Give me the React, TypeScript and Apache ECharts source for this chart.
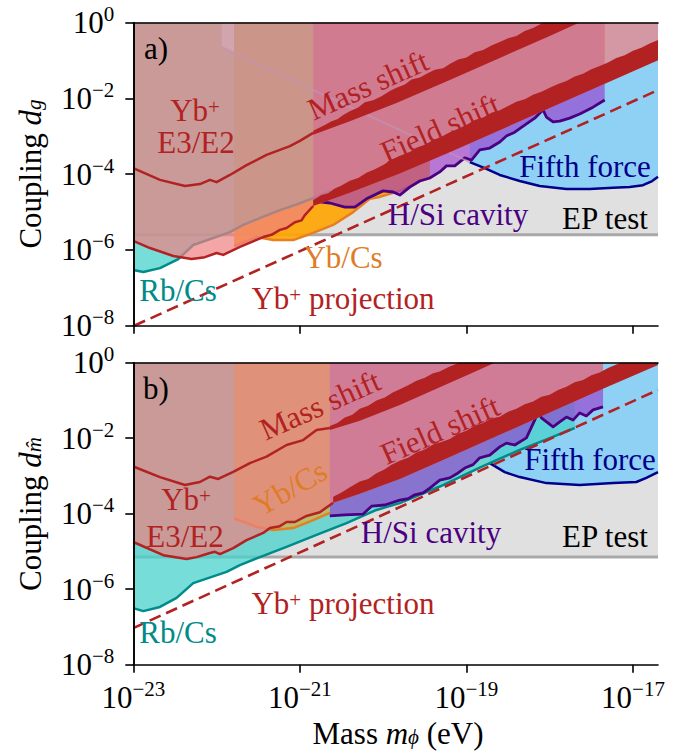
import React, { useEffect, useRef } from 'react';
import * as echarts from 'echarts';

// ---------- axes ----------
const X_MIN = 1e-23;
const X_MAX = Math.pow(10, -16.7);
const Y_MIN = 1e-8;
const Y_MAX = 1;
const X_TICKS = [1e-23, 1e-21, 1e-19, 1e-17];
const Y_TICKS = [1, 1e-2, 1e-4, 1e-6, 1e-8];

// ---------- panel a (pairs: log10 mass [eV], log10 coupling) ----------
const A_EP = -5.6;
const A_TEAL = [[-23.0, -6.53], [-22.88, -6.58], [-22.68, -6.48], [-22.46, -6.24], [-22.28, -5.87], [-22.06, -5.7], [-21.84, -5.53], [-21.68, -5.34], [-21.46, -5.14], [-21.24, -4.95], [-21.04, -4.8], [-20.84, -4.63], [-20.62, -4.44], [-20.4, -4.28], [-20.1, -4.02], [-19.8, -3.76], [-19.37, -3.36]];
const A_ORANGE = [[-21.79, -5.9], [-21.52, -5.66], [-21.32, -5.74], [-21.08, -5.74], [-20.84, -5.55], [-20.6, -5.34], [-20.36, -5.0], [-20.16, -4.65], [-20.04, -4.6], [-19.8, -4.44], [-19.56, -4.18], [-19.44, -4.1]];
const A_INDIGO = [[-20.84, -4.71], [-20.64, -4.76], [-20.46, -4.87], [-20.34, -4.87], [-20.2, -4.65], [-20.0, -4.44], [-19.88, -4.47], [-19.8, -4.55], [-19.68, -4.34], [-19.56, -4.18], [-19.44, -4.1], [-19.32, -3.94], [-19.24, -3.78], [-19.14, -3.78], [-19.02, -3.57], [-18.94, -3.63], [-18.84, -3.36], [-18.72, -3.31], [-18.6, -3.15], [-18.52, -2.99], [-18.42, -2.89], [-18.28, -2.67], [-18.18, -2.52], [-18.08, -2.3], [-18.04, -2.49], [-17.96, -2.62], [-17.88, -2.6], [-17.76, -2.52], [-17.64, -2.41], [-17.48, -2.23], [-17.34, -2.04]];
const A_NAVY = [[-18.96, -3.68], [-18.78, -3.84], [-18.6, -4.02], [-18.36, -4.18], [-18.12, -4.31], [-17.8, -4.39], [-17.52, -4.39], [-17.24, -4.36], [-17.04, -4.34], [-16.88, -4.29], [-16.77, -4.18], [-16.7, -4.07]];
const A_FAINT = [[-21.94, -0.64], [-20.84, -1.78], [-19.8, -2.83], [-18.96, -3.68]];
const A_STRIP = [[-21.94, 0], [-21.94, -0.64], [-21.79, -0.8], [-21.79, 0]];
const A_RED_LOW = [[-23.0, -5.76], [-22.8, -5.95], [-22.52, -6.16], [-22.3, -6.24], [-22.14, -6.19], [-22.0, -6.08], [-21.92, -6.13], [-21.72, -5.92], [-21.44, -5.66], [-21.34, -5.6], [-21.24, -5.47], [-21.16, -5.42], [-21.06, -5.27], [-20.98, -5.22], [-20.94, -5.08], [-20.84, -4.84]];
const A_RED_UP = [[-23.0, -3.84], [-22.68, -4.15], [-22.38, -4.31], [-22.2, -4.26], [-22.08, -4.15], [-22.0, -4.21], [-21.84, -4.02], [-21.64, -3.76], [-21.4, -3.49], [-21.12, -3.26], [-21.0, -3.12], [-20.84, -2.91]];
const A_MS_UP = [[-20.84, -2.85], [-20.7, -2.7], [-20.62, -2.6], [-20.55, -2.55], [-20.48, -2.44], [-20.4, -2.34], [-20.3, -2.24], [-20.22, -2.1], [-20.12, -2.05], [-20.02, -1.94], [-19.92, -1.8], [-19.84, -1.72], [-19.74, -1.63], [-19.66, -1.5], [-19.56, -1.45], [-19.46, -1.33], [-19.38, -1.24], [-19.28, -1.2], [-19.2, -1.09], [-19.1, -0.97], [-19.0, -0.92], [-18.9, -0.78], [-18.8, -0.72], [-18.7, -0.6], [-18.6, -0.51], [-18.5, -0.41], [-18.4, -0.35], [-18.3, -0.22], [-18.2, -0.14], [-18.08, 0]];
const A_MS_LOW = [[-20.84, -2.96], [-20.4, -2.6], [-19.84, -2.12], [-19.2, -1.51], [-18.6, -0.93], [-18.0, -0.35], [-17.65, 0]];
const A_FS_UP = [[-20.84, -4.68], [-20.74, -4.55], [-20.66, -4.5], [-20.58, -4.38], [-20.5, -4.3], [-20.4, -4.17], [-20.3, -4.1], [-20.2, -3.96], [-20.1, -3.87], [-20.0, -3.76], [-19.9, -3.62], [-19.8, -3.51], [-19.7, -3.44], [-19.6, -3.3], [-19.5, -3.22], [-19.4, -3.1], [-19.3, -3.01], [-19.2, -2.89], [-19.1, -2.8], [-19.0, -2.7], [-18.9, -2.57], [-18.8, -2.5], [-18.7, -2.38], [-18.6, -2.31], [-18.5, -2.2], [-18.4, -2.09], [-18.3, -2.02], [-18.2, -1.9], [-18.1, -1.82], [-18.0, -1.72], [-17.9, -1.62], [-17.8, -1.54], [-17.7, -1.42], [-17.6, -1.35], [-17.5, -1.23], [-17.4, -1.14], [-17.3, -1.05], [-17.2, -0.93], [-17.1, -0.86], [-17.0, -0.74], [-16.9, -0.66], [-16.8, -0.55], [-16.7, -0.46]];
const A_FS_LOW = [[-20.84, -4.84], [-20.4, -4.49], [-19.8, -3.98], [-19.2, -3.42], [-18.6, -2.84], [-18.0, -2.25], [-17.4, -1.67], [-16.7, -0.99]];
const A_DASH = [[-22.99, -8.0], [-16.7, -1.78]];
const A_HSI_END = -17.34;

// ---------- panel b ----------
const B_EP = -5.15;
const B_TEAL = [[-23.0, -6.5], [-22.88, -6.58], [-22.68, -6.47], [-22.48, -6.23], [-22.28, -5.84], [-21.88, -5.54], [-21.72, -5.36], [-21.48, -5.15], [-21.16, -4.88], [-20.8, -4.56], [-20.44, -4.25], [-20.08, -3.9], [-19.8, -3.72], [-19.32, -3.28], [-18.84, -2.78], [-18.36, -2.31], [-18.0, -2.0], [-17.7, -1.73]];
const B_ORANGE = [[-21.79, -4.12], [-21.52, -4.35], [-21.32, -4.43], [-21.08, -4.38], [-20.84, -4.17], [-20.64, -3.98]];
const B_INDIGO = [[-20.64, -4.06], [-20.46, -4.03], [-20.24, -4.01], [-20.14, -3.8], [-19.98, -3.77], [-19.8, -3.64], [-19.7, -3.6], [-19.62, -3.5], [-19.52, -3.45], [-19.44, -3.32], [-19.32, -3.11], [-19.2, -3.05], [-19.1, -2.92], [-19.02, -2.79], [-18.92, -2.7], [-18.84, -2.52], [-18.72, -2.45], [-18.6, -2.23], [-18.52, -2.13], [-18.42, -2.18], [-18.28, -1.99], [-18.18, -1.52], [-18.14, -1.33], [-18.1, -1.46], [-17.96, -1.7], [-17.88, -1.57], [-17.8, -1.44], [-17.72, -1.52], [-17.64, -1.33], [-17.56, -1.41], [-17.48, -1.25], [-17.36, -1.17]];
const B_NAVY = [[-18.72, -2.66], [-18.54, -2.9], [-18.36, -3.03], [-18.04, -3.19], [-17.64, -3.24], [-17.24, -3.19], [-16.96, -3.16], [-16.84, -3.05], [-16.7, -2.9]];
const B_RED_LOW = [[-23.0, -4.75], [-22.64, -5.1], [-22.36, -5.2], [-22.24, -5.15], [-22.08, -5.04], [-22.02, -5.01], [-21.96, -5.07], [-21.8, -4.91], [-21.64, -4.7], [-21.44, -4.51], [-21.36, -4.38], [-21.24, -4.33], [-21.16, -4.22], [-21.06, -4.22], [-20.92, -4.06], [-20.76, -3.96], [-20.6, -3.71]];
const B_RED_UP = [[-23.0, -2.75], [-22.68, -3.03], [-22.38, -3.24], [-22.2, -3.16], [-22.08, -3.02], [-21.98, -3.08], [-21.8, -2.89], [-21.6, -2.66], [-21.4, -2.49], [-21.16, -2.18], [-20.96, -2.05], [-20.8, -1.78], [-20.64, -1.73]];
const B_MS_UP = [[-20.64, -1.68], [-20.55, -1.6], [-20.46, -1.45], [-20.37, -1.38], [-20.28, -1.22], [-20.18, -1.14], [-20.08, -1.0], [-19.98, -0.92], [-19.88, -0.78], [-19.8, -0.7], [-19.7, -0.6], [-19.6, -0.48], [-19.5, -0.4], [-19.4, -0.28], [-19.32, -0.23], [-19.22, -0.12], [-19.09, 0]];
const B_MS_LOW = [[-20.64, -1.78], [-20.28, -1.54], [-19.8, -1.12], [-19.32, -0.65], [-18.96, -0.3], [-18.66, 0]];
const B_FS_UP = [[-20.6, -3.55], [-20.5, -3.44], [-20.4, -3.3], [-20.28, -3.15], [-20.18, -3.08], [-20.08, -2.93], [-19.98, -2.82], [-19.9, -2.7], [-19.8, -2.6], [-19.7, -2.52], [-19.6, -2.38], [-19.5, -2.3], [-19.4, -2.17], [-19.3, -2.1], [-19.2, -2.02], [-19.1, -1.88], [-19.0, -1.8], [-18.9, -1.67], [-18.8, -1.6], [-18.7, -1.48], [-18.6, -1.43], [-18.5, -1.3], [-18.4, -1.22], [-18.3, -1.1], [-18.2, -1.03], [-18.1, -0.9], [-18.0, -0.85], [-17.9, -0.72], [-17.8, -0.64], [-17.7, -0.52], [-17.6, -0.46], [-17.5, -0.33], [-17.4, -0.26], [-17.3, -0.14], [-17.15, 0]];
const B_FS_LOW = [[-20.6, -3.71], [-20.28, -3.47], [-19.8, -3.08], [-19.2, -2.5], [-18.6, -1.91], [-18.0, -1.32], [-17.4, -0.73], [-17.36, -0.69], [-16.7, -0.06]];
const B_DASH = [[-23.0, -7.03], [-16.7, -0.72]];
const B_HSI_END = -17.36;

// ---------- styles ----------
const FONT = "'Liberation Serif', 'DejaVu Serif', serif";
const FS = 31;
const RED = '#b22222';
const GREY_FILL = '#e0e0e0';
const GREY_LINE = '#a9a9a9';
const BLUE_FILL = '#8fd0f5';
const NAVY = '#00008b';
const TEAL_FILL = 'rgba(72,209,204,0.75)';
const TEAL_LINE = '#008b8b';
const ORANGE_FILL_A = 'rgba(255,165,0,0.9)';
const ORANGE_FILL_B = 'rgba(255,165,0,0.5)';
const ORANGE_LINE = '#e67e22';
const ORANGE_TEXT = '#e07b28';
const PURPLE_FILL = 'rgba(153,50,204,0.6)';
const INDIGO = '#4b0082';
const PINK_FILL = 'rgba(240,128,128,0.7)';

const L = (pts: number[][]) => pts.map(([x, y]) => [Math.pow(10, x), Math.pow(10, y)]);

function interp(arr: number[][], x: number) {
  for (let i = 0; i < arr.length - 1; i++) {
    const [x0, y0] = arr[i];
    const [x1, y1] = arr[i + 1];
    if (x >= x0 && x <= x1) return y0 + ((y1 - y0) * (x - x0)) / (x1 - x0);
  }
  return x < arr[0][0] ? arr[0][1] : arr[arr.length - 1][1];
}
// path along the middle of a (hidden) opaque band, from xa to xb
function midPath(upper: number[][], lower: number[][], xa: number, xb: number) {
  const lo = Math.min(xa, xb);
  const hi = Math.max(xa, xb);
  const xs = [lo, ...lower.map((p) => p[0]).filter((x) => x > lo && x < hi), hi];
  const pts = xs.map((x) => [x, (interp(upper, x) + interp(lower, x)) / 2]);
  return xa <= xb ? pts : pts.reverse();
}

function poly(ax: number, pts: number[][], fill: string) {
  const data = L(pts);
  return {
    type: 'custom',
    xAxisIndex: ax,
    yAxisIndex: ax,
    silent: true,
    data: [[1e-20, 1e-4]],
    renderItem: (_p: any, api: any) => ({
      type: 'polygon',
      shape: { points: data.map((p) => api.coord(p)) },
      style: { fill },
    }),
  };
}

function line(ax: number, pts: number[][], color: string, width: number, dashed = false) {
  return {
    type: 'line',
    xAxisIndex: ax,
    yAxisIndex: ax,
    silent: true,
    symbol: 'none',
    showSymbol: false,
    data: L(pts),
    lineStyle: { color, width, type: dashed ? [12, 6] : 'solid', cap: 'butt', join: 'round' },
  };
}

const last = (a: number[][]) => a[a.length - 1];

function panelSeries(ax: number, p: any) {
  const list: any[] = [];
  const mid = (xa: number, xb: number) => midPath(p.fsUp, p.fsLow, xa, xb);
  // EP test
  list.push(poly(ax, [[-23, p.ep], [-16.7, p.ep], [-16.7, 0], [-23, 0]], GREY_FILL));
  list.push(line(ax, [[-23, p.ep], [-16.7, p.ep]], GREY_LINE, 3));
  // fifth force
  const nav0 = p.navy[0][0];
  list.push(poly(ax, [...p.navy, [-16.7, 0], [p.hsiEnd, 0], ...mid(p.hsiEnd, nav0)], BLUE_FILL));
  list.push(line(ax, p.navy, NAVY, 2.5));
  // Rb/Cs
  const tEnd = last(p.teal)[0];
  const tealTail = [...mid(tEnd, p.hsiEnd), [p.hsiEnd, 0]];
  const tealPoly = poly(ax, [...p.teal, ...tealTail, [-23, 0]], TEAL_FILL);
  const tealLine = line(ax, p.teal, TEAL_LINE, 2.5);
  // Yb/Cs
  const oEnd = last(p.orange)[0];
  const orTail = p.orangeToHsi ? [...mid(oEnd, p.hsiEnd), [p.hsiEnd, 0]] : [[oEnd, 0]];
  const orPoly = poly(ax, [...p.orange, ...orTail, [p.orange[0][0], 0]], p.orangeFill);
  const orLine = line(ax, p.orange, ORANGE_LINE, 2.5);
  if (p.tealOnTop) list.push(orPoly, orLine, tealPoly, tealLine);
  else list.push(tealPoly, tealLine, orPoly, orLine);
  // H/Si cavity
  list.push(poly(ax, [...p.indigo, [last(p.indigo)[0], 0], [p.indigo[0][0], 0]], PURPLE_FILL));
  list.push(line(ax, p.indigo, INDIGO, 2.8));
  // Yb+ E3/E2 region
  list.push(poly(ax, [...p.redLow, ...p.fsLow.filter((q: number[]) => q[0] <= p.pinkEnd), [p.pinkEnd, 0], [-23, 0]], PINK_FILL));
  if (p.strip) list.push(poly(ax, p.strip, 'rgba(225,185,215,0.35)'));
  if (p.faint) list.push(line(ax, p.faint, 'rgba(195,145,180,0.7)', 2));
  list.push(line(ax, p.redLow, RED, 2.5));
  list.push(line(ax, p.redUp, RED, 2.5));
  list.push(poly(ax, [...p.msUp, ...p.msLow.slice().reverse()], RED));
  list.push(poly(ax, [...p.fsUp, ...p.fsTop, ...p.fsLow.slice().reverse()], RED));
  list.push(line(ax, p.dash, RED, 2.6, true));
  return list.map((s, i) => ({ ...s, z: i + 1 }));
}

const fmt = (v: number) => {
  const e = Math.round(Math.log10(v));
  return '{b|10}{s|' + (e < 0 ? '\u2212' + -e : String(e)) + '}';
};
const LABEL_RICH = {
  b: { fontSize: FS, lineHeight: 38, fontFamily: FONT, color: '#000' },
  s: { fontSize: 21, lineHeight: 16, verticalAlign: 'top', fontFamily: FONT, color: '#000' },
};

function xAxis(grid: number, labels: boolean, top = false) {
  return {
    type: 'log',
    gridIndex: grid,
    min: X_MIN,
    max: X_MAX,
    position: top ? 'top' : 'bottom',
    z: 50,
    axisLine: { show: true, lineStyle: { color: '#000', width: 1.6 } },
    axisTick: { show: !top, inside: false, length: 8, lineStyle: { color: '#000', width: 1.6 }, customValues: X_TICKS },
    axisLabel: { show: labels && !top, customValues: X_TICKS, formatter: fmt, rich: LABEL_RICH, margin: 14 },
    splitLine: { show: false },
    minorTick: { show: false },
  };
}
function yAxis(grid: number, right = false) {
  return {
    type: 'log',
    gridIndex: grid,
    min: Y_MIN,
    max: Y_MAX,
    position: right ? 'right' : 'left',
    z: 50,
    axisLine: { show: true, lineStyle: { color: '#000', width: 1.6 } },
    axisTick: { show: !right, inside: false, length: 8, lineStyle: { color: '#000', width: 1.6 }, customValues: Y_TICKS },
    axisLabel: { show: !right, customValues: Y_TICKS, formatter: fmt, rich: LABEL_RICH, margin: 19 },
    splitLine: { show: false },
    minorTick: { show: false },
  };
}

const TXT_RICH = {
  s: { fontSize: 21, lineHeight: 4, verticalAlign: 'top', fontFamily: FONT },
  d: { fontSize: 21, lineHeight: 10, verticalAlign: 'bottom', fontFamily: FONT, fontStyle: 'italic' },
  i: { fontSize: FS, lineHeight: 28, fontFamily: FONT, fontStyle: 'italic' },
};
function txt(x: number, y: number, text: string, fill: string, rot = 0) {
  return {
    type: 'text',
    x,
    y,
    rotation: (rot * Math.PI) / 180,
    z: 100,
    silent: true,
    style: { text, fill, fontSize: FS, lineHeight: 28, fontFamily: FONT, align: 'center', verticalAlign: 'middle', rich: TXT_RICH },
  };
}

export default function App() {
  const ref = useRef<HTMLDivElement>(null);
  useEffect(() => {
    document.body.style.margin = '0';
    const chart = echarts.init(ref.current!, undefined, { renderer: 'svg' });
    const seriesA = panelSeries(0, {
      ep: A_EP, navy: A_NAVY, teal: A_TEAL, orange: A_ORANGE, orangeFill: ORANGE_FILL_A, tealOnTop: true,
      orangeToHsi: true, hsiEnd: A_HSI_END, strip: A_STRIP,
      indigo: A_INDIGO, faint: A_FAINT, redLow: A_RED_LOW, redUp: A_RED_UP, pinkEnd: -16.7,
      msUp: A_MS_UP, msLow: A_MS_LOW, fsUp: A_FS_UP, fsLow: A_FS_LOW, fsTop: [], dash: A_DASH,
    });
    const seriesB = panelSeries(1, {
      ep: B_EP, navy: B_NAVY, teal: B_TEAL, orange: B_ORANGE, orangeFill: ORANGE_FILL_B, tealOnTop: false,
      orangeToHsi: false, hsiEnd: B_HSI_END, strip: null,
      indigo: B_INDIGO, faint: null, redLow: B_RED_LOW, redUp: B_RED_UP, pinkEnd: B_HSI_END,
      msUp: B_MS_UP, msLow: B_MS_LOW, fsUp: B_FS_UP, fsLow: B_FS_LOW, fsTop: [[-16.7, 0]], dash: B_DASH,
    });
    chart.setOption({
      animation: false,
      grid: [
        { left: 133.3, top: 22.7, width: 524.7, height: 303 },
        { left: 133.3, top: 362.7, width: 524.7, height: 302 },
      ],
      xAxis: [xAxis(0, false), xAxis(1, true), xAxis(0, false, true), xAxis(1, false, true)],
      yAxis: [yAxis(0), yAxis(1), yAxis(0, true), yAxis(1, true)],
      series: [...seriesA, ...seriesB],
      graphic: [
        txt(156, 48, 'a)', '#000'),
        txt(195, 110, 'Yb{s|+}', RED),
        txt(196, 142, 'E3/E2', RED),
        txt(368, 85, 'Mass shift', RED, 24),
        txt(440, 128, 'Field shift', RED, 24),
        txt(585, 166, 'Fifth force', NAVY),
        txt(458, 214, 'H/Si cavity', INDIGO),
        txt(605, 218, 'EP test', '#000'),
        txt(343, 257, 'Yb/Cs', ORANGE_TEXT),
        txt(178, 290, 'Rb/Cs', TEAL_LINE),
        txt(343, 298, 'Yb{s|+} projection', RED),
        txt(156, 388, 'b)', '#000'),
        txt(186, 499, 'Yb{s|+}', RED),
        txt(185, 536, 'E3/E2', RED),
        txt(320, 405, 'Mass shift', RED, 24),
        txt(290, 488, 'Yb/Cs', ORANGE_TEXT, 30),
        txt(440, 430, 'Field shift', RED, 24),
        txt(590, 459, 'Fifth force', NAVY),
        txt(431, 532, 'H/Si cavity', INDIGO),
        txt(605, 536, 'EP test', '#000'),
        txt(343, 603, 'Yb{s|+} projection', RED),
        txt(178, 632, 'Rb/Cs', TEAL_LINE),
        txt(30, 174, 'Coupling {i|d}{d|g}', '#000', 90),
        txt(30, 514, 'Coupling {i|d}{d|m\u0302}', '#000', 90),
        txt(398, 733, 'Mass {i|m}{d|\u03d5} (eV)', '#000'),
      ],
    });
    return () => chart.dispose();
  }, []);
  return <div ref={ref} style={{ width: 683, height: 751 }} />;
}
